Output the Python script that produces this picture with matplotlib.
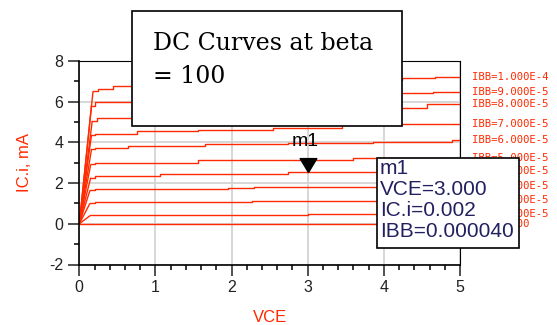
import matplotlib
matplotlib.use("Agg")
import matplotlib.pyplot as plt
from matplotlib.patches import Rectangle
from matplotlib.path import Path

plt.rcParams['axes.unicode_minus'] = False
plt.rcParams['font.family'] = ['Liberation Sans', 'DejaVu Sans']

# ---------------- data ----------------
ibb_labels = ["IBB=1.000E-4", "IBB=9.000E-5", "IBB=8.000E-5", "IBB=7.000E-5",
              "IBB=6.000E-5", "IBB=5.000E-5", "IBB=4.000E-5", "IBB=3.000E-5",
              "IBB=2.000E-5", "IBB=1.000E-5", "IBB=0.000"]

# VCE break points (first = origin, second = knee, rest = step starts)
vce_1e4 = [0, 0.18, 0.25, 0.44, 1.2, 2.2, 3.2, 4.24, 4.67]
ic_1e4  = [0, 6.50, 6.62, 6.76, 6.85, 6.95, 7.05, 7.14, 7.22]
vce_9e5 = [0, 0.16, 0.20, 1.2, 2.3, 3.4, 4.10, 4.65]
ic_9e5  = [0, 5.80, 5.99, 6.10, 6.20, 6.30, 6.40, 6.48]
vce_8e5 = [0, 0.17, 0.23, 1.3, 2.4, 3.5, 4.10, 4.57]
ic_8e5  = [0, 5.05, 5.20, 5.35, 5.50, 5.62, 5.71, 5.86]
vce_7e5 = [0, 0.16, 0.20, 0.76, 1.56, 2.55, 3.45]
ic_7e5  = [0, 4.35, 4.43, 4.54, 4.63, 4.69, 4.88]
vce_6e5 = [0, 0.16, 0.20, 0.64, 1.65, 2.74, 3.86, 4.90]
ic_6e5  = [0, 3.65, 3.72, 3.82, 3.91, 3.97, 4.03, 4.10]
vce_5e5 = [0, 0.15, 0.20, 1.56, 3.6]
ic_5e5  = [0, 2.92, 3.00, 3.15, 3.22]
vce_4e5 = [0, 0.15, 0.20, 1.06, 2.74, 4.3]
ic_4e5  = [0, 2.27, 2.33, 2.43, 2.54, 2.60]
vce_3e5 = [0, 0.14, 0.20, 1.95, 2.3, 4.0]
ic_3e5  = [0, 1.64, 1.69, 1.77, 1.80, 1.85]
vce_2e5 = [0, 0.14, 0.20, 2.27, 4.2]
ic_2e5  = [0, 1.00, 1.05, 1.12, 1.16]
vce_1e5 = [0, 0.15, 0.20, 3.0]
ic_1e5  = [0, 0.42, 0.45, 0.48]
vce_0 = [0, 0.15]
ic_0  = [0, 0.0]

curves_v = [vce_1e4, vce_9e5, vce_8e5, vce_7e5, vce_6e5, vce_5e5,
            vce_4e5, vce_3e5, vce_2e5, vce_1e5, vce_0]
curves_i = [ic_1e4, ic_9e5, ic_8e5, ic_7e5, ic_6e5, ic_5e5,
            ic_4e5, ic_3e5, ic_2e5, ic_1e5, ic_0]

marker_vce = 3.0
marker_ic = 2.54
marker_lines = ["m1", "VCE=3.000", "IC.i=0.002", "IBB=0.000040"]
title_lines = ["DC Curves at beta", "= 100"]

x_ticks = [0, 1, 2, 3, 4, 5]
y_ticks = [-2, 0, 2, 4, 6, 8]

# ---------------- figure ----------------
W, H = 557, 325
fig = plt.figure(figsize=(W / 100, H / 100), dpi=100)
ax = fig.add_axes([79.3 / W, (H - 264.5) / H, (460 - 79.3) / W, (264.5 - 60.9) / H])

red = '#ff2a00'
xmax = 5.0
for v, i, lab in zip(curves_v, curves_i, ibb_labels):
    ax.plot(v[:2], i[:2], color=red, lw=1.0, solid_capstyle='butt')
    ax.plot(v[1:] + [xmax], i[1:] + [i[-1]], color=red, lw=1.0,
            drawstyle='steps-post')
    ax.annotate(lab, xy=(xmax, i[-1]), xytext=(8.6, 0), textcoords='offset points',
                va='center', ha='left', color=red, fontsize=7.7,
                family='DejaVu Sans Mono', annotation_clip=False)

ax.set_xlim(0, 5)
ax.set_ylim(-2, 8)
ax.set_xticks(x_ticks)
ax.set_yticks(y_ticks)
ax.set_xticks([k * 0.2 for k in range(26)], minor=True)
ax.set_yticks(list(range(-2, 9)), minor=True)
ax.grid(True, which='major', color='#d4d4d4', lw=1.3)
ax.set_axisbelow(True)
ax.tick_params(which='major', length=7.9, width=1.1, direction='out',
               labelsize=11.5, pad=3.6, colors='#222222')
ax.tick_params(which='minor', length=3.6, width=1.1, direction='out')
for s in ['left', 'bottom']:
    ax.spines[s].set_linewidth(1.2)
for s in ['top', 'right']:
    ax.spines[s].set_linewidth(0.8)

ax.set_xlabel("VCE", color=red, fontsize=12)
ax.set_ylabel("IC.i, mA", color=red, fontsize=12)
ax.xaxis.set_label_coords(0.5, -0.225)
ax.yaxis.set_label_coords(-0.125, 0.5)

# marker
tri = Path([(-0.6, 1.0), (0.6, 1.0), (0.0, 0.0), (-0.6, 1.0)],
           [Path.MOVETO, Path.LINETO, Path.LINETO, Path.CLOSEPOLY])
ax.plot([marker_vce], [marker_ic], marker=tri, markersize=20, color='black',
        linestyle='none', zorder=5)
ax.annotate(marker_lines[0], xy=(marker_vce, marker_ic), xytext=(-2, 16),
            textcoords='offset points', ha='center', va='bottom',
            fontsize=14, color='black', zorder=6)

# marker readout box
fig.add_artist(Rectangle((377 / W, (H - 248) / H), 142 / W, 90 / H,
                         transform=fig.transFigure, facecolor='white',
                         edgecolor='black', lw=1.2, zorder=4))
for k, t in enumerate(marker_lines):
    yc = 169 + k * 20.9
    fig.text(380 / W, (H - yc) / H, t, ha='left', va='center', fontsize=15,
             color='#232060', zorder=5)

# title box
fig.add_artist(Rectangle((132 / W, (H - 126) / H), 270 / W, 115 / H,
                         transform=fig.transFigure, facecolor='white',
                         edgecolor='black', lw=1.2, zorder=4))
for k, t in enumerate(title_lines):
    yb = 50 + k * 33
    fig.text(153 / W, (H - yb) / H, t, ha='left', va='baseline', fontsize=17.0,
             family='DejaVu Serif', color='black', zorder=5)

fig.savefig("out.png", dpi=100)
